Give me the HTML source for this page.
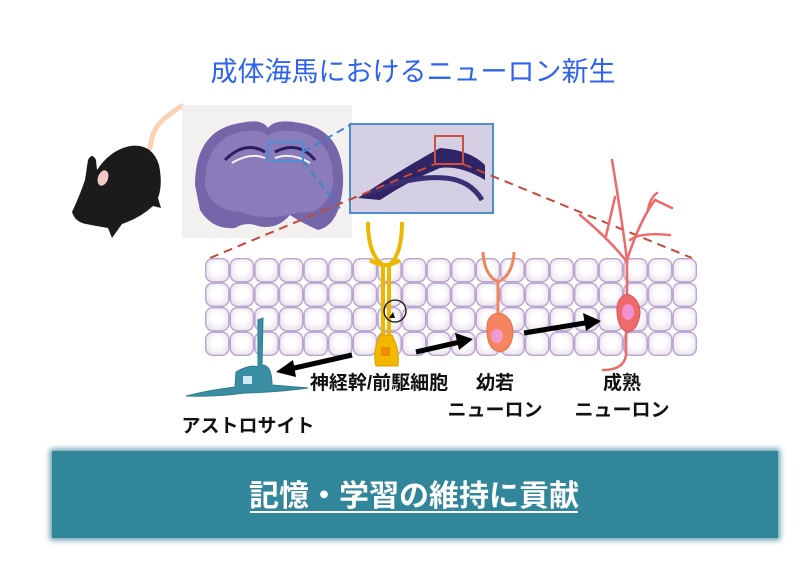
<!DOCTYPE html>
<html><head><meta charset="utf-8"><style>
html,body{margin:0;padding:0;background:#fff;width:800px;height:573px;overflow:hidden}
svg{display:block}
text{font-family:"Liberation Sans","Noto Sans CJK JP",sans-serif}
</style></head><body>
<svg width="800" height="573" viewBox="0 0 800 573" xmlns="http://www.w3.org/2000/svg">
<defs>
<filter id="sh" x="-5%" y="-20%" width="110%" height="140%"><feGaussianBlur stdDeviation="3"/></filter>
<radialGradient id="cell" cx="0.5" cy="0.45" r="0.65"><stop offset="0.35" stop-color="#fff"/><stop offset="1" stop-color="#e6dde8"/></radialGradient>
<pattern id="grid" x="205" y="258" width="24.6" height="24.5" patternUnits="userSpaceOnUse">
<rect x="0.7" y="0.7" width="23.2" height="23.1" rx="7" fill="url(#cell)" stroke="#b9a5cf" stroke-width="1.4"/>
</pattern>
</defs>
<text x="413" y="81" font-size="27" fill="#2d63f0" text-anchor="middle">成体海馬におけるニューロン新生</text>

<!-- mouse -->
<path d="M150 148 Q152 128 165 118 Q175 110 182 106" stroke="#fbd3b4" stroke-width="5" fill="none" stroke-linecap="round"/>
<path d="M72 212 Q80 195 85 180 L88 160 Q92 152 96 160 L97 170 Q110 150 130 146 Q152 143 159 165 Q163 185 158 198 L161 208 L153 206 Q140 218 122 224 L112 238 L108 228 Q96 226 86 224 Q75 222 72 212 Z" fill="#1b1b1b"/>
<ellipse cx="103" cy="178" rx="5" ry="8" fill="#f3c8c8" transform="rotate(20 103 178)"/>

<!-- brain image -->
<rect x="182" y="105" width="170" height="133" fill="#f2f1ef"/>
<path d="M195 185 Q195 130 240 123 Q262 118 268 128 Q275 118 300 123 Q345 130 343 185 Q340 225 318 230 Q300 222 290 215 Q275 232 255 225 Q245 222 235 228 Q212 230 200 210 Z" fill="#7566aa"/>
<path d="M205 185 Q205 140 240 132 Q262 128 268 136 Q275 128 300 132 Q335 140 333 185 Q325 215 300 212 Q268 222 240 212 Q210 210 205 185Z" fill="#8a7cba"/>
<path d="M225 160 Q245 140 265 152 M275 152 Q298 140 315 160" stroke="#2c1e5e" stroke-width="3" fill="none"/>
<path d="M232 163 Q250 152 265 158 M275 158 Q292 152 310 163" stroke="#f4f2f6" stroke-width="2" fill="none"/>
<rect x="268" y="142" width="35" height="19" fill="none" stroke="#4f8fd0" stroke-width="2"/>
<!-- inset -->
<rect x="350" y="124" width="143" height="89" fill="#d4cfe3" stroke="#4f8fd0" stroke-width="2"/>
<path d="M358 198 Q400 170 440 148 Q470 150 485 165 L485 180 Q460 165 440 168 Q410 180 380 200 Z" fill="#2f2466"/>
<path d="M365 195 Q410 175 445 178 Q470 180 482 200" stroke="#3a2e74" stroke-width="5" fill="none"/>
<rect x="435" y="136" width="28" height="28" fill="none" stroke="#d0503e" stroke-width="2"/>
<line x1="303" y1="152" x2="350" y2="125" stroke="#3f84c8" stroke-width="2" stroke-dasharray="8,5"/>
<line x1="303" y1="161" x2="342" y2="211" stroke="#3f84c8" stroke-width="2" stroke-dasharray="8,5"/>
<line x1="210" y1="258" x2="435" y2="164" stroke="#c8483a" stroke-width="2" stroke-dasharray="9,6"/>
<line x1="463" y1="164" x2="692" y2="258" stroke="#c8483a" stroke-width="2" stroke-dasharray="9,6"/>

<!-- tissue grid -->
<rect x="205" y="258" width="492" height="98" fill="url(#grid)"/>

<!-- stem cell -->
<path d="M368 222 Q368 255 383 265 L383 335 M402 222 Q402 255 389 265 L389 335" stroke="#eab800" stroke-width="4" fill="none"/>
<path d="M370 260 Q386 270 400 260" stroke="#eab800" stroke-width="4" fill="none"/>
<path d="M380 335 Q372 352 376 366 L398 366 Q400 350 392 335 Z" fill="#f2b800" stroke="#d9a300"/>
<rect x="381" y="347" width="9" height="9" fill="#f08a00"/>
<circle cx="395" cy="311" r="11" fill="none" stroke="#111" stroke-width="1.3"/>
<path d="M389 318 l4 -6 l2 6z" fill="#111"/>

<!-- young neuron -->
<path d="M483 252 Q484 275 498 282 Q513 275 514 252" stroke="#f08560" stroke-width="3" fill="none"/>
<line x1="498" y1="282" x2="498" y2="315" stroke="#f08560" stroke-width="3"/>
<path d="M487 330 Q486 315 498 313 Q512 315 513 332 Q512 350 500 352 Q487 350 487 330Z" fill="#f5855e" stroke="#e8704a"/>
<ellipse cx="497" cy="336" rx="6" ry="7" fill="#f29ad0"/>

<!-- mature neuron -->
<g stroke="#ec6a6a" stroke-width="2.5" fill="none" stroke-linecap="round">
<path d="M627 300 L627 260 Q622 220 612 160"/>
<path d="M627 260 Q640 220 655 200 L672 208"/>
<path d="M648 210 Q650 198 657 193"/>
<path d="M630 240 Q640 232 670 235"/>
<path d="M627 262 Q610 240 580 215"/>
<path d="M606 236 Q612 210 615 197"/>
<path d="M626 320 L626 355 Q624 370 603 370"/>
</g>
<path d="M617 312 Q616 298 627 294 Q640 298 640 314 Q638 330 628 332 Q618 330 617 312Z" fill="#ef6a6a" stroke="#d85656"/>
<ellipse cx="628" cy="312" rx="6" ry="8" fill="#f291cf"/>

<!-- astrocyte -->
<path d="M263 318 L262 365 Q272 365 272 385 L308 388 Q280 392 245 393 Q215 397 186 396 Q210 390 235 387 L236 372 Q250 364 258 367 L258 320 Z" fill="#3a8ea2" stroke="#2d7b8e"/>
<rect x="243" y="376" width="9" height="8" fill="#cde9f1"/>

<!-- arrows -->
<g stroke="#000" stroke-width="5"><line x1="352" y1="355" x2="290" y2="369"/><line x1="416" y1="352" x2="460" y2="342"/><line x1="524" y1="333" x2="585" y2="323"/></g>
<path d="M276 372 L293 360 L296 377Z M473 339 L455 333 L459 350Z M601 321 L583 313 L586 331Z"/>

<g font-size="19" font-weight="bold" fill="#111">
<text x="379" y="389" text-anchor="middle">神経幹/前駆細胞</text>
<text x="495" y="389" text-anchor="middle">幼若</text>
<text x="495" y="416" text-anchor="middle">ニューロン</text>
<text x="622" y="389" text-anchor="middle">成熟</text>
<text x="622" y="416" text-anchor="middle">ニューロン</text>
<text x="248" y="432" text-anchor="middle">アストロサイト</text>
</g>

<!-- banner -->
<rect x="50" y="449" width="730" height="91" fill="#5d9aa8" filter="url(#sh)"/>
<rect x="52" y="451" width="726" height="87" fill="#32869a"/>
<text x="414" y="506" font-size="30" font-weight="bold" fill="#fff" text-anchor="middle">記憶・学習の維持に貢献</text>
<line x1="250" y1="512" x2="578" y2="512" stroke="#fff" stroke-width="2"/>
</svg>
</body></html>
